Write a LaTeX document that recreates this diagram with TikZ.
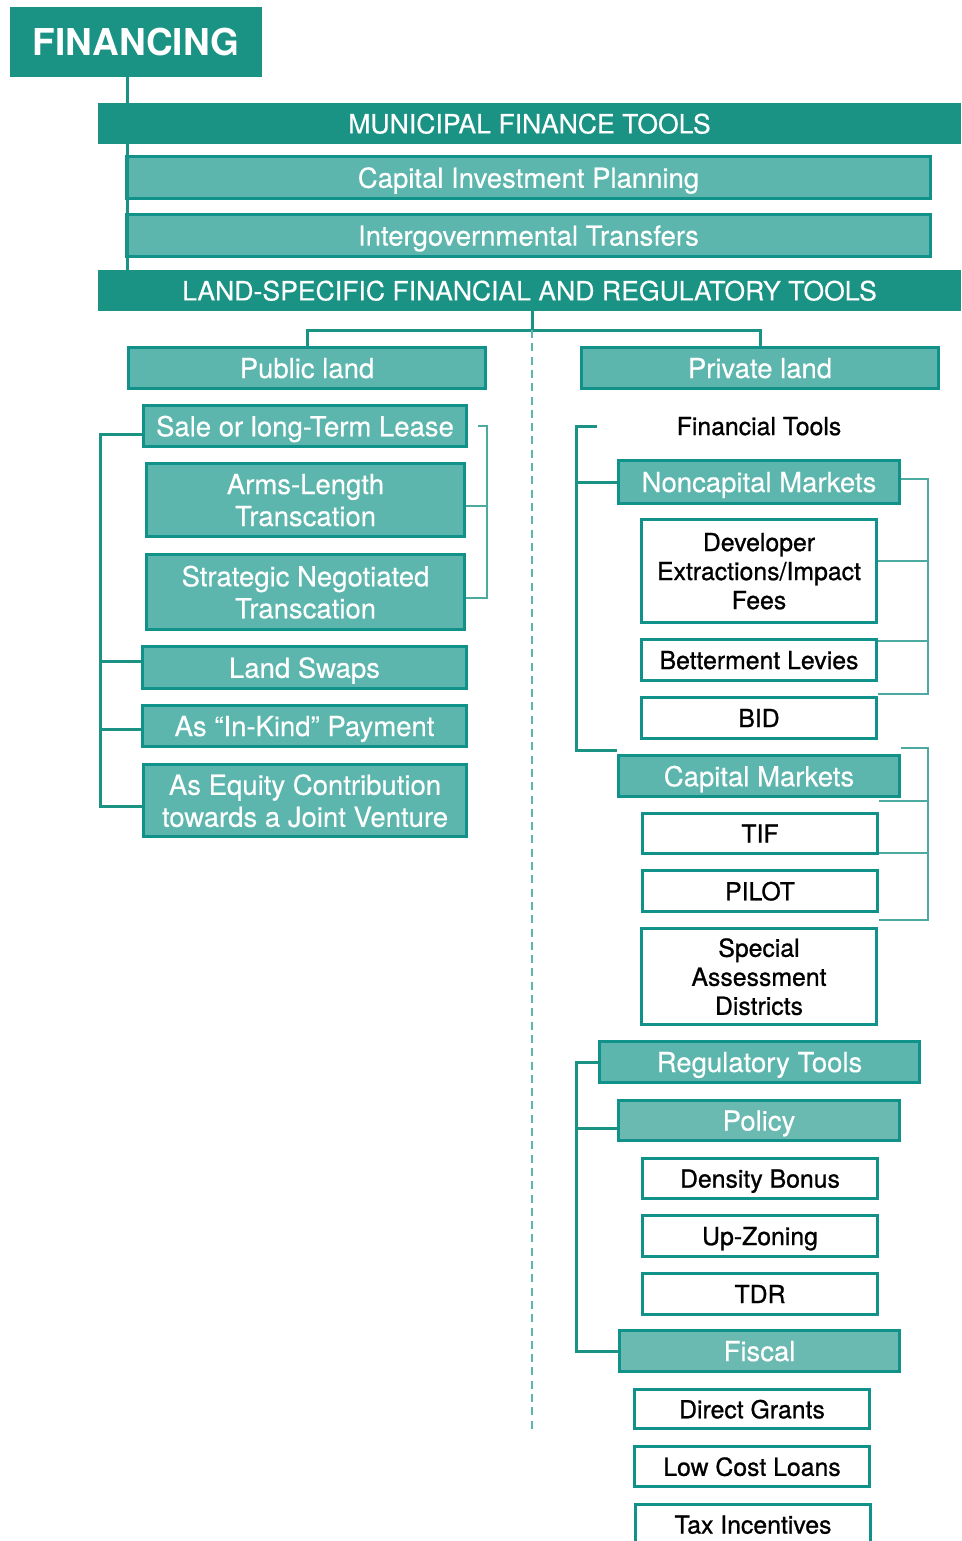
\documentclass[tikz,border=0pt]{standalone}
\usepackage{fontspec}
\setmainfont{TeX Gyre Heros}
\newfontfamily\lightfont[FakeBold=0.35]{TeX Gyre Heros}
\newfontfamily\medfont[FakeBold=0.9]{TeX Gyre Heros}
\definecolor{tealdk}{HTML}{1A9385}
\definecolor{tealmd}{HTML}{5DB6AD}
\definecolor{tealed}{HTML}{10918A}
\definecolor{teallt}{HTML}{6BBAB2}
\definecolor{tealln}{HTML}{4DAAA0}

\begin{document}
\begin{tikzpicture}[x=1pt, y=-1pt,
  hd/.style={fill=tealdk, text=white, inner sep=0pt, text depth=0pt, font=\lightfont\fontsize{26.6}{30}\selectfont},
  g/.style={draw=tealed, line width=3pt, fill=tealmd, text=white, inner sep=0pt, align=center, text depth=0pt,
    minimum height=41pt, font=\lightfont\fontsize{27.5}{32}\selectfont},
  w/.style={draw=tealed, line width=3pt, fill=white, text=black, inner sep=0pt, align=center, text depth=0pt,
    minimum width=235pt, minimum height=41pt, font=\medfont\fontsize{24.8}{29}\selectfont},
  wide/.style={minimum width=804pt, minimum height=42pt},
  lcol/.style={minimum width=323pt},
  rcol/.style={minimum width=281pt},
  ln/.style={draw=tealdk, line width=3pt},
  th/.style={draw=tealln, line width=1.5pt},
  dsh/.style={draw=tealmd, line width=2pt, dash pattern=on 8pt off 5.3pt}
]
  \useasboundingbox (0,0) rectangle (961,1541);

  % headers
  \node[hd, font=\bfseries\fontsize{37}{40}\selectfont, minimum width=252pt, minimum height=70pt] (fin) at (136,42) {FINANCING};
  \node[hd, minimum width=863pt, minimum height=41pt] (mft) at (529.5,123.5) {MUNICIPAL FINANCE TOOLS};
  \node[g, wide] (cip) at (528.5,177.5) {Capital Investment Planning};
  \node[g, wide] (igt) at (528.5,235.5) {Intergovernmental Transfers};
  \node[hd, minimum width=863pt, minimum height=41pt] (lst) at (529.5,290.5) {LAND-SPECIFIC FINANCIAL AND REGULATORY TOOLS};

  % public land
  \node[g, minimum width=357pt] (pub) at (307,368) {Public land};
  \node[g, lcol] (sale) at (305,426) {Sale or long-Term Lease};
  \node[g, minimum width=318pt, minimum height=73pt] (arms) at (305.5,500) {Arms-Length\\Transcation};
  \node[g, minimum width=318pt, minimum height=75pt] (strat) at (305.5,592) {Strategic Negotiated\\Transcation};
  \node[g, minimum width=324pt, minimum height=42pt] (swap) at (304.5,667.5) {Land Swaps};
  \node[g, minimum width=324pt] (kind) at (304.5,726) {As “In-Kind” Payment};
  \node[g, lcol, minimum height=72pt] (eq) at (305,800.5) {As Equity Contribution\\towards a Joint Venture};

  % private land
  \node[g, minimum width=357pt] (prv) at (760,368) {Private land};
  \node[text depth=0pt, font=\medfont\fontsize{24.8}{29}\selectfont] (fint) at (759,426) {Financial Tools};
  \node[g, rcol, minimum height=43pt] (ncm) at (759,482) {Noncapital Markets};
  \node[w, minimum height=103pt] (dev) at (759,571) {Developer\\Extractions/Impact\\Fees};
  \node[w] (bet) at (759,660) {Betterment Levies};
  \node[w] (bid) at (759,718) {BID};
  \node[g, rcol] (cm) at (759,776) {Capital Markets};
  \node[w, minimum height=40pt] (tif) at (760,833.5) {TIF};
  \node[w] (pilot) at (760,891) {PILOT};
  \node[w, minimum height=96pt] (sad) at (759,976.5) {Special\\Assessment\\Districts};

  \node[g, minimum width=320pt] (reg) at (759.5,1062) {Regulatory Tools};
  \node[g, rcol, fill=teallt, minimum height=40pt] (pol) at (759,1120.5) {Policy};
  \node[w, minimum height=40pt] (den) at (760,1178.5) {Density Bonus};
  \node[w] (upz) at (760,1236) {Up-Zoning};
  \node[w] (tdr) at (760,1294) {TDR};
  \node[g, minimum width=280pt, fill=teallt] (fis) at (759.5,1351) {Fiscal};
  \node[w, minimum height=39pt] (dg) at (752,1409) {Direct Grants};
  \node[w, minimum height=40pt] (lcl) at (752,1466.5) {Low Cost Loans};
  \node[w, minimum height=40pt] (tax) at (753,1524.5) {Tax Incentives};

  % spine and split
  \draw[ln] ([xshift=-9pt]fin.south) -- ([xshift=-9pt]fin.south |- lst.north);
  \coordinate (j) at (532,330);
  \coordinate (dend) at (532,1433);
  \draw[ln] (lst.south -| j) -- (j);
  \draw[ln] (pub.north) |- (j) -| (prv.north);
  \draw[dsh] (j) -- (dend);

  % public land brackets
  \draw[ln] ([yshift=-8pt]sale.west) -- ++(-42,0) |- ([yshift=-6pt]eq.west);
  \draw[ln] ([yshift=6pt]swap.west) -- ++(-41,0);
  \draw[ln] ([yshift=-3pt]kind.west) -- ++(-41,0);
  \draw[th] ([xshift=10pt]sale.east) -- ++(9,0) |- ([yshift=-6pt]strat.east);
  \draw[th] ([yshift=-6pt]arms.east) -- ++(21,0);

  % financial tools brackets
  \coordinate (ft) at (597,426);
  \draw[ln] (ft) -- ++(-21,0) |- ([yshift=4pt]cm.north west);
  \draw[ln] (ncm.west) -- ++(-41,0);
  \draw[th] ([yshift=3pt]ncm.east) -- ++(27,0) |- ([yshift=2pt]bid.north east);
  \draw[th] ([yshift=10pt]dev.east) -- ++(50,0);
  \draw[th] ([yshift=-3pt]bet.north east) -- ++(50,0);
  \draw[th] ([yshift=6pt]cm.north east) -- ++(27,0) |- ([yshift=-7pt]pilot.south east);
  \draw[th] ([yshift=11pt]tif.north east) -- ++(49,0);
  \draw[th] ([yshift=2pt]tif.south east) -- ++(49,0);

  % regulatory tools bracket
  \draw[ln] (reg.west) -- ++(-22,0) |- (fis.west);
  \draw[ln] ([yshift=-8pt]pol.west) -- ++(-41,0);
\end{tikzpicture}
\end{document}
